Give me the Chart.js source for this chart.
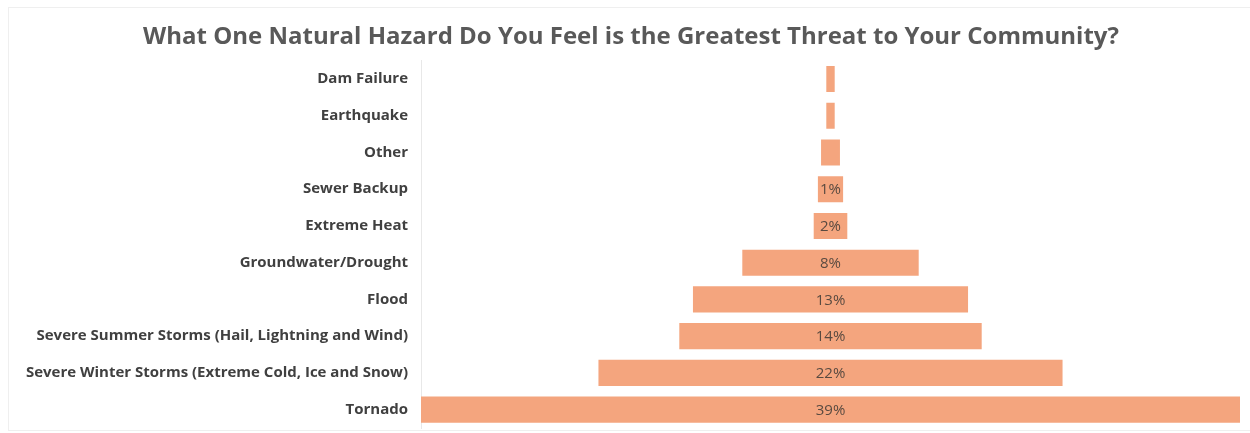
<!DOCTYPE html>
<html>
<head>
<meta charset="utf-8">
<script src="https://cdn.jsdelivr.net/npm/chart.js@4"></script>
<style>
  html, body { margin: 0; padding: 0; background: #ffffff; overflow: hidden; }
  #wrap { position: relative; width: 1250px; height: 433px; }
  #frame { position: absolute; left: 8px; top: 7px; width: 1242px; height: 424px; border: 1px solid #efefef; border-right: none; box-sizing: border-box; }
  #box { position: absolute; left: 0; top: 0; width: 1250px; height: 433px; }
</style>
</head>
<body>
<div id="wrap">
  <div id="frame"></div>
  <div id="box"><canvas id="c"></canvas></div>
</div>
<script>
// Data
const categories = [
  "Dam Failure",
  "Earthquake",
  "Other",
  "Sewer Backup",
  "Extreme Heat",
  "Groundwater/Drought",
  "Flood",
  "Severe Summer Storms (Hail, Lightning and Wind)",
  "Severe Winter Storms (Extreme Cold, Ice and Snow)",
  "Tornado"
];
const percentValues = [0.4, 0.4, 0.9, 1.2, 1.6, 8.4, 13.1, 14.4, 22.1, 39];
const valueLabels = ["", "", "", "1%", "2%", "8%", "13%", "14%", "22%", "39%"];
const titleText = "What One Natural Hazard Do You Feel is the Greatest Threat to Your Community?";

const halfMax = Math.max(...percentValues) / 2;
const funnelData = percentValues.map(v => [-v / 2, v / 2]);

const centerLabels = {
  id: 'centerLabels',
  afterDatasetsDraw(chart) {
    const ctx = chart.ctx;
    const meta = chart.getDatasetMeta(0);
    ctx.save();
    ctx.font = '15px "Liberation Sans Narrow", "Open Sans", sans-serif';
    ctx.fillStyle = '#594a40';
    ctx.textAlign = 'center';
    ctx.textBaseline = 'middle';
    meta.data.forEach((bar, i) => {
      const t = valueLabels[i];
      if (!t) return;
      const xc = (bar.x + bar.base) / 2;
      ctx.fillText(t, xc, bar.y + 1);
    });
    ctx.restore();
  }
};

new Chart(document.getElementById('c'), {
  type: 'bar',
  data: {
    labels: categories,
    datasets: [{
      data: funnelData,
      backgroundColor: '#F4A57E',
      borderWidth: 0,
      borderSkipped: false,
      categoryPercentage: 1,
      barPercentage: 0.71
    }]
  },
  plugins: [centerLabels],
  options: {
    responsive: true,
    maintainAspectRatio: false,
    devicePixelRatio: 1,
    animation: false,
    indexAxis: 'y',
    layout: { padding: { left: 22, right: 10, top: 0, bottom: 5 } },
    plugins: {
      legend: { display: false },
      tooltip: { enabled: false },
      title: {
        display: true,
        text: titleText,
        color: '#595959',
        font: { family: '"Open Sans", sans-serif', size: 24, weight: 'bold', lineHeight: 1.15 },
        padding: { top: 23, bottom: 10 }
      }
    },
    scales: {
      x: {
        display: false,
        min: -halfMax,
        max: halfMax
      },
      y: {
        afterFit(scale) {
          scale.width = 399;
          scale.paddingTop = 0;
          scale.paddingBottom = 0;
        },
        grid: { display: false, drawTicks: false },
        border: { display: true, color: '#e8e8e8' },
        ticks: {
          padding: 13,
          color: '#404040',
          font: { family: '"Open Sans", sans-serif', size: 15, weight: 'bold' }
        }
      }
    }
  }
});
</script>
</body>
</html>
